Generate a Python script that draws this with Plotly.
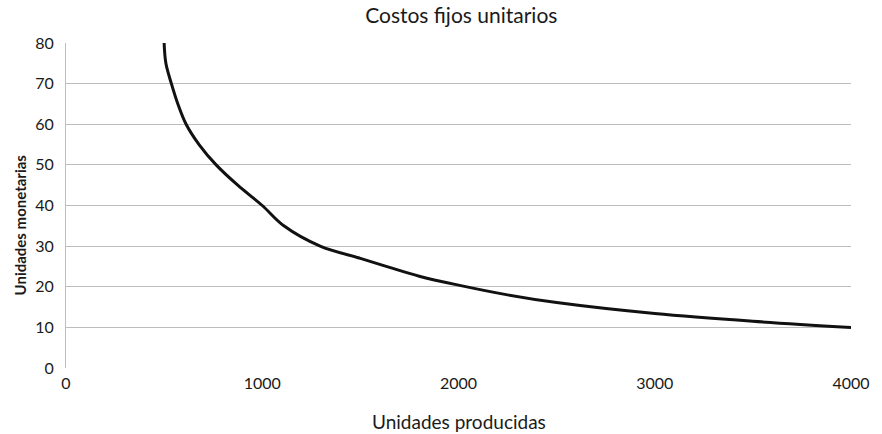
import plotly.graph_objects as go

# Unit fixed cost by production volume
unidades = [500, 509, 537, 570, 612, 678, 765, 875, 1000, 1110, 1295, 1500,
            1640, 1800, 2000, 2250, 2500, 3000, 3500, 4000]
costo_unitario = [80, 75, 70, 65, 60, 55, 50, 45, 40, 35, 30, 27,
                  24.9, 22.6, 20.4, 18.0, 16.1, 13.4, 11.5, 10]

x_ticks = [0, 1000, 2000, 3000, 4000]
y_ticks = [0, 10, 20, 30, 40, 50, 60, 70, 80]

FONT = "Lato, 'Open Sans', sans-serif"

fig = go.Figure()
fig.add_trace(go.Scatter(
    x=unidades, y=costo_unitario, mode="lines",
    line=dict(color="#111111", width=3, shape="spline", smoothing=1),
    showlegend=False, hoverinfo="x+y",
))

fig.update_layout(
    width=882, height=434,
    margin=dict(l=66, r=26, t=43, b=66),
    paper_bgcolor="white", plot_bgcolor="white",
    font=dict(family=FONT, color="#1a1a1a", size=16),
    title=dict(text="Costos fijos unitarios", x=0.523, xanchor="center",
               y=0.963, yanchor="middle", font=dict(size=21, family=FONT)),
    xaxis=dict(
        range=[0, 4000], tickvals=x_ticks, ticktext=[str(v) for v in x_ticks],
        showgrid=False, zeroline=False, showline=False,
        ticks="", ticklabelstandoff=4, tickfont=dict(size=16),
    ),
    yaxis=dict(
        range=[0, 80], tickvals=y_ticks,
        showgrid=True, gridcolor="#bdbdbd", gridwidth=1,
        zeroline=False, showline=True, linecolor="#bdbdbd", linewidth=1,
        ticks="", tickfont=dict(size=16), ticklabelstandoff=8,
    ),
    annotations=[
        dict(text="Unidades producidas", xref="paper", yref="paper",
             x=0.5, y=-0.166, xanchor="center", yanchor="middle",
             showarrow=False, font=dict(size=19, family=FONT)),
        dict(text="<b>Unidades monetarias</b>", xref="paper", yref="paper",
             x=-0.058, y=0.44, xanchor="center", yanchor="middle",
             textangle=-90, showarrow=False, font=dict(size=15, family=FONT)),
    ],
)

fig.write_html("out.html")
